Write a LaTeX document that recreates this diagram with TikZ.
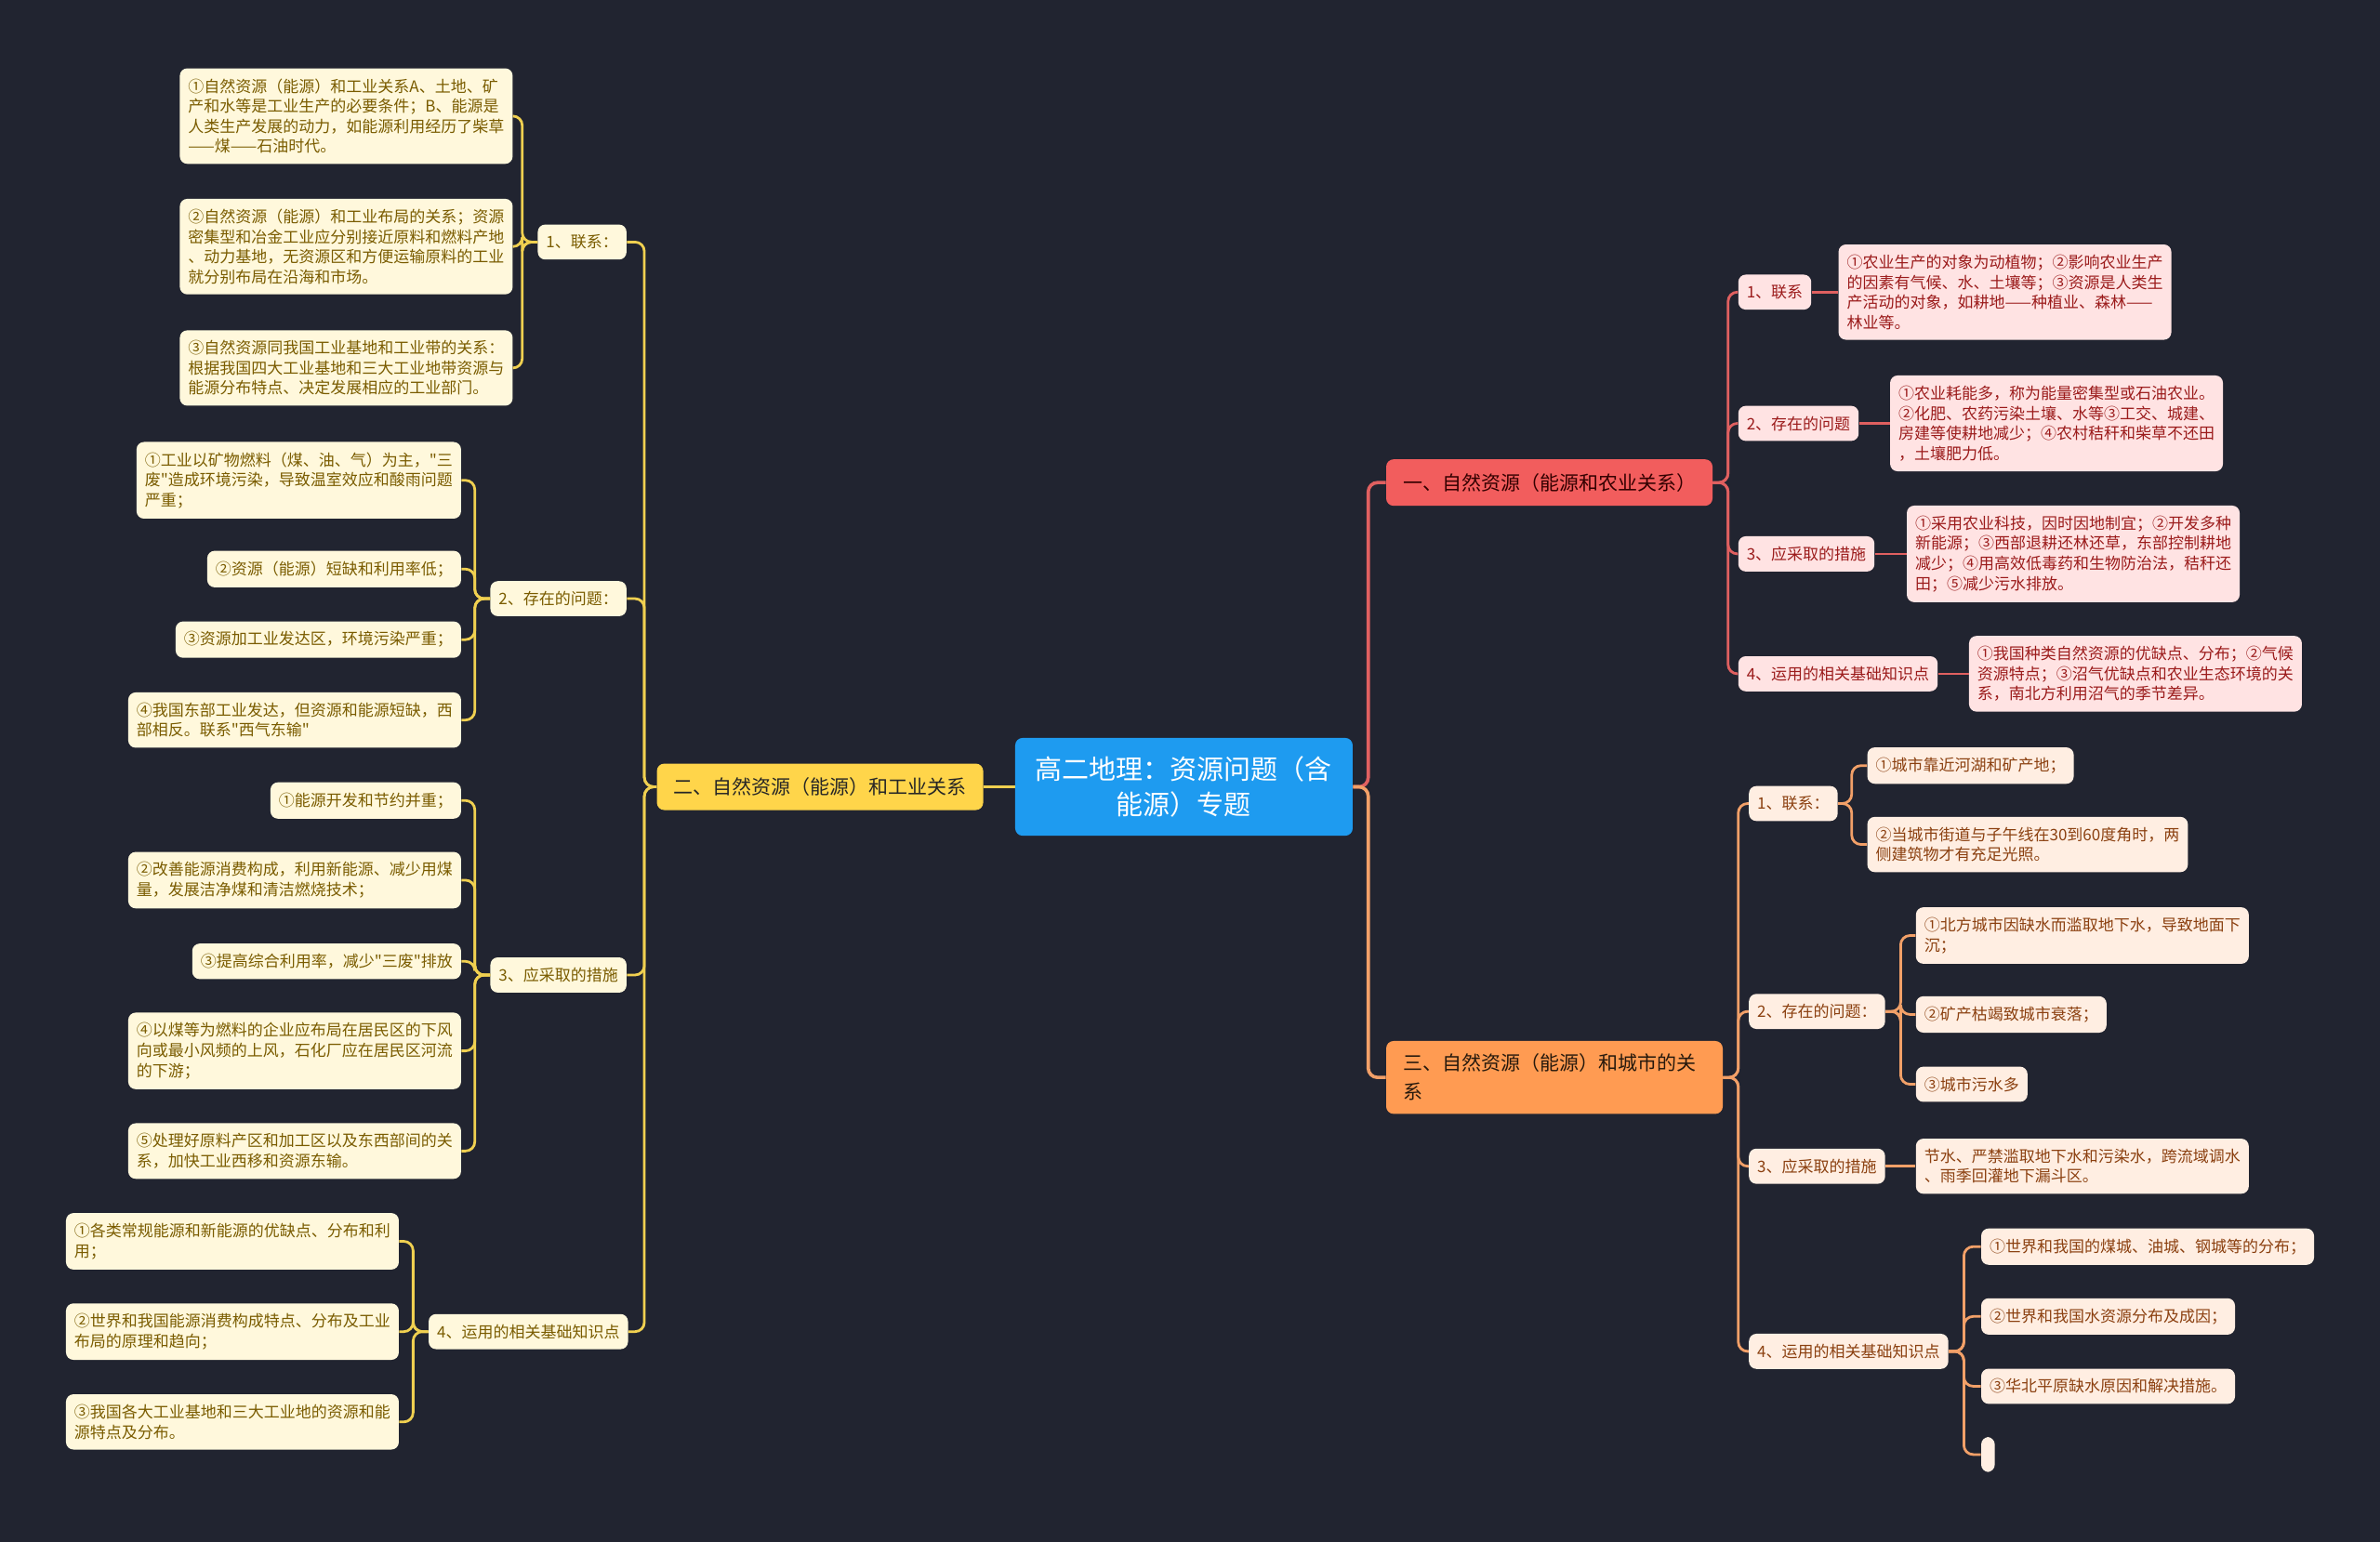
\documentclass[tikz,border=0pt]{standalone}
\usepackage{fontspec}
\setmainfont{Noto Sans CJK SC}[Ligatures=TeXOff]
\usepackage{tikz}
\usetikzlibrary{positioning}
\definecolor{fondo}{HTML}{212430}
\definecolor{azul}{HTML}{1E9BF0}
\definecolor{amarillo}{HTML}{FFD54A}
\definecolor{rojo}{HTML}{F25D5D}
\definecolor{naranja}{HTML}{FF9B52}
\definecolor{cremaY}{HTML}{FFF8DC}
\definecolor{cremaR}{HTML}{FFE3E3}
\definecolor{cremaO}{HTML}{FFEEE2}
\definecolor{textoY}{HTML}{7A5C00}
\definecolor{textoR}{HTML}{9B1B1B}
\definecolor{textoO}{HTML}{8B4010}
\definecolor{lineaY}{HTML}{F0D050}
\definecolor{lineaR}{HTML}{E06060}
\definecolor{lineaO}{HTML}{F2A068}
\tikzstyle{raiz} = [fill=azul, text=white, rounded corners=4pt, inner xsep=11pt, inner ysep=10pt, align=center, font=\fontsize{14.5}{18.8}\selectfont]
\tikzstyle{rama} = [rounded corners=4pt, inner xsep=9pt, inner ysep=7.5pt, font=\fontsize{10.5}{15.5}\selectfont]
\tikzstyle{hoja} = [rounded corners=4pt, inner xsep=4.5pt, inner ysep=5.5pt, align=left, font=\fontsize{8.5}{10.8}\selectfont]
\tikzstyle{hojaY} = [hoja, fill=cremaY, text=textoY]
\tikzstyle{hojaR} = [hoja, fill=cremaR, text=textoR]
\tikzstyle{hojaO} = [hoja, fill=cremaO, text=textoO]
\tikzstyle{linkY} = [draw=lineaY, line width=1.4pt, rounded corners=5pt]
\tikzstyle{linkR} = [draw=lineaR, line width=1.4pt, rounded corners=5pt]
\tikzstyle{linkO} = [draw=lineaO, line width=1.4pt, rounded corners=5pt]

\begin{document}
\begin{tikzpicture}[x=0.8163pt, y=-0.8163pt]
	\useasboundingbox (0,0) rectangle (1568,1016);
	\fill[fondo] (0,0) rectangle (1568,1016);
	% centro
	\node[raiz] (raiz) at (780,518.5) {高二地理：资源问题（含\\能源）专题};
	% rama izquierda: industria
	\node[rama, fill=amarillo, text=black!85, anchor=east] (ind) at (648,518.5) {二、自然资源（能源）和工业关系};
	\node[hojaY, anchor=east] (indA) at (413,159.5) {1、联系：};
	\node[hojaY, anchor=east] (indA1) at (338,76.5) {①自然资源（能源）和工业关系A、土地、矿\\产和水等是工业生产的必要条件；B、能源是\\人类生产发展的动力，如能源利用经历了柴草\\——煤——石油时代。};
	\node[hojaY, anchor=east] (indA2) at (338,162.5) {②自然资源（能源）和工业布局的关系；资源\\密集型和冶金工业应分别接近原料和燃料产地\\、动力基地，无资源区和方便运输原料的工业\\就分别布局在沿海和市场。};
	\node[hojaY, anchor=east] (indA3) at (338,242.5) {③自然资源同我国工业基地和工业带的关系：\\根据我国四大工业基地和三大工业地带资源与\\能源分布特点、决定发展相应的工业部门。};
	\node[hojaY, anchor=east] (indB) at (413,394.5) {2、存在的问题：};
	\node[hojaY, anchor=east] (indB1) at (304,316.5) {①工业以矿物燃料（煤、油、气）为主，"三\\废"造成环境污染，导致温室效应和酸雨问题\\严重；};
	\node[hojaY, anchor=east] (indB2) at (304,375) {②资源（能源）短缺和利用率低；};
	\node[hojaY, anchor=east] (indB3) at (304,421.5) {③资源加工业发达区，环境污染严重；};
	\node[hojaY, anchor=east] (indB4) at (304,474.5) {④我国东部工业发达，但资源和能源短缺，西\\部相反。联系"西气东输"};
	\node[hojaY, anchor=east] (indC) at (413,642.5) {3、应采取的措施};
	\node[hojaY, anchor=east] (indC1) at (304,527.5) {①能源开发和节约并重；};
	\node[hojaY, anchor=east] (indC2) at (304,580) {②改善能源消费构成，利用新能源、减少用煤\\量，发展洁净煤和清洁燃烧技术；};
	\node[hojaY, anchor=east] (indC3) at (304,633.5) {③提高综合利用率，减少"三废"排放};
	\node[hojaY, anchor=east] (indC4) at (304,692.5) {④以煤等为燃料的企业应布局在居民区的下风\\向或最小风频的上风，石化厂应在居民区河流\\的下游；};
	\node[hojaY, anchor=east] (indC5) at (304,758.5) {⑤处理好原料产区和加工区以及东西部间的关\\系，加快工业西移和资源东输。};
	\node[hojaY, anchor=east] (indD) at (414,877.5) {4、运用的相关基础知识点};
	\node[hojaY, anchor=east] (indD1) at (263,818) {①各类常规能源和新能源的优缺点、分布和利\\用；};
	\node[hojaY, anchor=east] (indD2) at (263,877.5) {②世界和我国能源消费构成特点、分布及工业\\布局的原理和趋向；};
	\node[hojaY, anchor=east] (indD3) at (263,937) {③我国各大工业基地和三大工业地的资源和能\\源特点及分布。};
	% rama derecha: agricultura
	\node[rama, fill=rojo, text=black!80!red, anchor=west] (agr) at (913,318) {一、自然资源（能源和农业关系）};
	\node[hojaR, anchor=west] (agrA) at (1145,192.5) {1、联系};
	\node[hojaR, anchor=west] (agrA1) at (1211,192.5) {①农业生产的对象为动植物；②影响农业生产\\的因素有气候、水、土壤等；③资源是人类生\\产活动的对象，如耕地——种植业、森林——\\林业等。};
	\node[hojaR, anchor=west] (agrB) at (1145,279) {2、存在的问题};
	\node[hojaR, anchor=west] (agrB1) at (1245,279) {①农业耗能多，称为能量密集型或石油农业。\\②化肥、农药污染土壤、水等③工交、城建、\\房建等使耕地减少；④农村秸秆和柴草不还田\\，土壤肥力低。};
	\node[hojaR, anchor=west] (agrC) at (1145,365) {3、应采取的措施};
	\node[hojaR, anchor=west] (agrC1) at (1256,365) {①采用农业科技，因时因地制宜；②开发多种\\新能源；③西部退耕还林还草，东部控制耕地\\减少；④用高效低毒药和生物防治法，秸秆还\\田；⑤减少污水排放。};
	\node[hojaR, anchor=west] (agrD) at (1145,444) {4、运用的相关基础知识点};
	\node[hojaR, anchor=west] (agrD1) at (1297,444) {①我国种类自然资源的优缺点、分布；②气候\\资源特点；③沼气优缺点和农业生态环境的关\\系，南北方利用沼气的季节差异。};
	% rama derecha: ciudad
	\node[rama, fill=naranja, text=black!80!brown, align=left, text width=163pt, inner ysep=7pt, anchor=west] (urb) at (913,710) {三、自然资源（能源）和城市的关\\系};
	\node[hojaO, anchor=west] (urbA) at (1152,529.5) {1、联系：};
	\node[hojaO, anchor=west] (urbA1) at (1230,504.5) {①城市靠近河湖和矿产地；};
	\node[hojaO, anchor=west] (urbA2) at (1230,556.5) {②当城市街道与子午线在30到60度角时，两\\侧建筑物才有充足光照。};
	\node[hojaO, anchor=west] (urbB) at (1152,666.5) {2、存在的问题：};
	\node[hojaO, anchor=west] (urbB1) at (1262,616.5) {①北方城市因缺水而滥取地下水，导致地面下\\沉；};
	\node[hojaO, anchor=west] (urbB2) at (1262,668.5) {②矿产枯竭致城市衰落；};
	\node[hojaO, anchor=west] (urbB3) at (1262,714.5) {③城市污水多};
	\node[hojaO, anchor=west] (urbC) at (1152,768.5) {3、应采取的措施};
	\node[hojaO, anchor=west] (urbC1) at (1262,768.5) {节水、严禁滥取地下水和污染水，跨流域调水\\、雨季回灌地下漏斗区。};
	\node[hojaO, anchor=west] (urbD) at (1152,890.5) {4、运用的相关基础知识点};
	\node[hojaO, anchor=west] (urbD1) at (1305,821.5) {①世界和我国的煤城、油城、钢城等的分布；};
	\node[hojaO, anchor=west] (urbD2) at (1305,867.5) {②世界和我国水资源分布及成因；};
	\node[hojaO, anchor=west] (urbD3) at (1305,913.5) {③华北平原缺水原因和解决措施。};
	\node[hojaO, anchor=west, inner sep=0pt, minimum width=7.3pt, minimum height=18.8pt] (urbD4) at (1305,958.5) {};
	% conexiones
	\draw[linkY, line width=1.8pt] (raiz.west) -- (ind.east);
	\draw[linkR, line width=1.8pt] (raiz.east) -- ++(10,0) |- (agr.west);
	\draw[linkO, line width=1.8pt] (raiz.east) -- ++(10,0) |- (urb.west);
	\draw[linkY] (ind.west) -- ++(-8,0) |- (indA.east);
	\draw[linkY] (ind.west) -- ++(-8,0) |- (indB.east);
	\draw[linkY] (ind.west) -- ++(-8,0) |- (indC.east);
	\draw[linkY] (ind.west) -- ++(-8,0) |- (indD.east);
	\draw[linkY] (indA.west) -- ++(-10,0) |- (indA1.east);
	\draw[linkY] (indA.west) -- ++(-10,0) |- (indA2.east);
	\draw[linkY] (indA.west) -- ++(-10,0) |- (indA3.east);
	\draw[linkY] (indB.west) -- ++(-10,0) |- (indB1.east);
	\draw[linkY] (indB.west) -- ++(-10,0) |- (indB2.east);
	\draw[linkY] (indB.west) -- ++(-10,0) |- (indB3.east);
	\draw[linkY] (indB.west) -- ++(-10,0) |- (indB4.east);
	\draw[linkY] (indC.west) -- ++(-10,0) |- (indC1.east);
	\draw[linkY] (indC.west) -- ++(-10,0) |- (indC2.east);
	\draw[linkY] (indC.west) -- ++(-10,0) |- (indC3.east);
	\draw[linkY] (indC.west) -- ++(-10,0) |- (indC4.east);
	\draw[linkY] (indC.west) -- ++(-10,0) |- (indC5.east);
	\draw[linkY] (indD.west) -- ++(-10,0) |- (indD1.east);
	\draw[linkY] (indD.west) -- ++(-10,0) |- (indD2.east);
	\draw[linkY] (indD.west) -- ++(-10,0) |- (indD3.east);
	\draw[linkR] (agr.east) -- ++(10,0) |- (agrA.west);
	\draw[linkR] (agr.east) -- ++(10,0) |- (agrB.west);
	\draw[linkR] (agr.east) -- ++(10,0) |- (agrC.west);
	\draw[linkR] (agr.east) -- ++(10,0) |- (agrD.west);
	\draw[linkR] (agrA.east) -- (agrA1.west);
	\draw[linkR] (agrB.east) -- (agrB1.west);
	\draw[linkR] (agrC.east) -- (agrC1.west);
	\draw[linkR] (agrD.east) -- (agrD1.west);
	\draw[linkO] (urb.east) -- ++(10,0) |- (urbA.west);
	\draw[linkO] (urb.east) -- ++(10,0) |- (urbB.west);
	\draw[linkO] (urb.east) -- ++(10,0) |- (urbC.west);
	\draw[linkO] (urb.east) -- ++(10,0) |- (urbD.west);
	\draw[linkO] (urbA.east) -- ++(9,0) |- (urbA1.west);
	\draw[linkO] (urbA.east) -- ++(9,0) |- (urbA2.west);
	\draw[linkO] (urbB.east) -- ++(10,0) |- (urbB1.west);
	\draw[linkO] (urbB.east) -- ++(10,0) |- (urbB2.west);
	\draw[linkO] (urbB.east) -- ++(10,0) |- (urbB3.west);
	\draw[linkO] (urbC.east) -- (urbC1.west);
	\draw[linkO] (urbD.east) -- ++(10,0) |- (urbD1.west);
	\draw[linkO] (urbD.east) -- ++(10,0) |- (urbD2.west);
	\draw[linkO] (urbD.east) -- ++(10,0) |- (urbD3.west);
	\draw[linkO] (urbD.east) -- ++(10,0) |- (urbD4.west);
\end{tikzpicture}
\end{document}
